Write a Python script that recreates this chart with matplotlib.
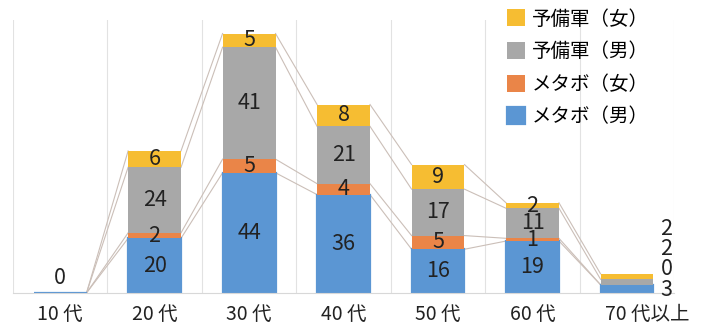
import numpy as np
import matplotlib.pyplot as plt
import matplotlib.transforms as mtransforms

plt.rcParams['font.family'] = ['Noto Sans CJK JP', 'DejaVu Sans']

# age groups
categories = ["10 代", "20 代", "30 代", "40 代", "50 代", "60 代", "70 代以上"]

# stacked from bottom to top
metabo_m = [0, 20, 44, 36, 16, 19, 3]
metabo_f = [0, 2, 5, 4, 5, 1, 0]
yobi_m = [0, 24, 41, 21, 17, 11, 2]
yobi_f = [0, 6, 5, 8, 9, 2, 2]

series_names = ["メタボ（男）", "メタボ（女）", "予備軍（男）", "予備軍（女）"]
series_vals = [metabo_m, metabo_f, yobi_m, yobi_f]
colors = ["#5b96d3", "#ea8548", "#a8a8a8", "#f6bd32"]

x = np.arange(len(categories))
w = 0.56

fig = plt.figure(figsize=(7.12, 3.31), dpi=100)
ax = fig.add_axes([0.018, 0.115, 0.929, 0.825])

# vertical separators between groups
for b in np.arange(-0.5, len(categories), 1.0):
    ax.axvline(b, color="#e2e2e2", lw=0.8, zorder=0)

bottom = np.zeros(len(categories))
tops = []
for k, (name, vals, c) in enumerate(zip(series_names, series_vals, colors)):
    vals = np.array(vals, dtype=float)
    # only the bottom series gets an outline so the empty 10代 stack shows blue
    ax.bar(x, vals, w, bottom=bottom, color=c, edgecolor=c,
           linewidth=1.6 if k == 0 else 0, label=name, zorder=2)
    # value labels (middle groups only)
    for i in range(1, len(categories) - 1):
        ax.text(x[i], bottom[i] + vals[i] / 2, f"{int(vals[i])}", ha="center",
                va="center", fontsize=15.5, color="#222222", zorder=4)
    bottom = bottom + vals
    tops.append(bottom.copy())

# series lines connecting the stacks
for top in tops:
    for i in range(len(categories) - 1):
        ax.plot([x[i] + w / 2, x[i + 1] - w / 2], [top[i], top[i + 1]],
                color="#cbbfb8", lw=0.8, zorder=1)

# first group: single zero label above the flat bar
ax.annotate(f"{metabo_m[0]}", (x[0], tops[-1][0]), xytext=(0, 3),
            textcoords="offset points", ha="center", va="bottom", fontsize=15.5,
            color="#222222")

# last group: labels stacked at the right side
last = len(categories) - 1
for k, vals in enumerate(series_vals):
    ax.annotate(f"{vals[last]}", (x[last] + w / 2, 0), xytext=(5, -5.5 + k * 14.6),
                textcoords="offset points", ha="left", va="bottom", fontsize=15.5,
                color="#222222")

ax.set_xlim(-0.5, len(categories) - 0.5)
ax.set_ylim(0, 100)
ax.set_xticks(x)
ax.set_xticklabels(categories, fontsize=14, color="#222222")
ax.tick_params(axis="x", length=0, pad=8)
# last tick label sits a bit to the right
lab = ax.get_xticklabels()[-1]
lab.set_transform(lab.get_transform() + mtransforms.ScaledTranslation(0.2, 0, fig.dpi_scale_trans))
ax.set_yticks([])
for s in ["top", "right", "left"]:
    ax.spines[s].set_visible(False)
ax.spines["bottom"].set_color("#d8d8d8")

h, l = ax.get_legend_handles_labels()
ax.legend(h[::-1], l[::-1], loc="upper left", bbox_to_anchor=(0.735, 1.07),
          frameon=False, fontsize=14, handlelength=0.95, handleheight=0.95,
          handletextpad=0.35, labelspacing=0.6, borderaxespad=0)

fig.savefig("out.png", dpi=100)
